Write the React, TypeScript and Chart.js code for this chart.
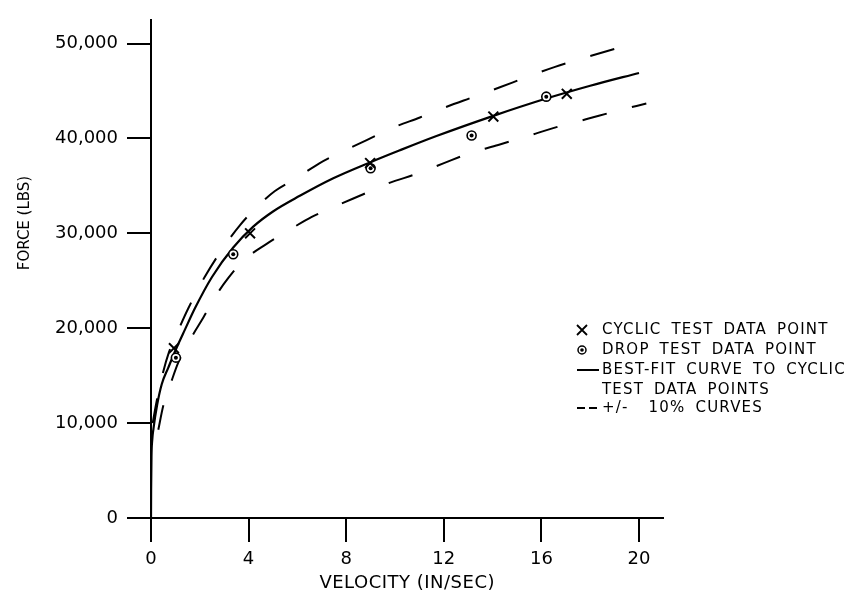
import React, { useEffect, useRef } from 'react';
import { Chart, registerables } from 'chart.js';

Chart.register(...registerables);

// ---- data ----
const fitVelocity = [0, 0.005, 0.02, 0.05, 0.1, 0.25, 0.44, 0.71, 1.0, 1.4, 1.8, 2.5, 3.37, 4.19, 5.0, 6.1, 7.47, 9.0, 10.2, 11.7, 14.0, 16.2, 18.0, 20.0];
const fitForce = [0, 3000, 6500, 8200, 9400, 11900, 14100, 15850, 17650, 19900, 22100, 25400, 28500, 30700, 32300, 33950, 35800, 37500, 38750, 40250, 42350, 44200, 45550, 46900];

const upperVelocity = [0.07, 0.2, 0.44, 0.74, 1.19, 1.53, 2.2, 3.1, 3.65, 4.33, 5.08, 5.97, 6.9, 7.88, 8.84, 9.93, 11.02, 12.12, 13.21, 14.3, 15.46, 16.56, 17.72, 20.0];
const upperForce = [10000, 11900, 14800, 17500, 20200, 22100, 25400, 29000, 30870, 32760, 34460, 35830, 37370, 38660, 39820, 41150, 42210, 43340, 44360, 45390, 46520, 47540, 48460, 50200];

const lowerVelocity = [0.3, 0.5, 0.85, 1.12, 1.67, 2.14, 2.69, 3.17, 3.78, 4.74, 5.67, 6.59, 7.61, 8.7, 9.73, 10.89, 11.98, 13.07, 14.23, 15.46, 16.62, 17.86, 19.09, 20.3];
const lowerForce = [9300, 11800, 14500, 16400, 19100, 21100, 23550, 25300, 27120, 28890, 30360, 31730, 32920, 34120, 35270, 36270, 37370, 38450, 39310, 40270, 41190, 42040, 42900, 43680];

const cyclicVelocity = [0.94, 4.06, 8.98, 14.03, 17.04];
const cyclicForce = [17900, 30000, 37400, 42300, 44700];

const dropVelocity = [1.02, 3.37, 9.0, 13.14, 16.2];
const dropForce = [16900, 27800, 36850, 40300, 44400];

const xTicks = [0, 4, 8, 12, 16, 20];
const xTickLabels = ['0', '4', '8', '12', '16', '20'];
const yTicks = [0, 10000, 20000, 30000, 40000, 50000];
const yTickLabels = ['0', '10,000', '20,000', '30,000', '40,000', '50,000'];

const xTitle = 'VELOCITY (IN/SEC)';
const yTitle = 'FORCE (LBS)';
const legendLines = [
  'CYCLIC TEST DATA POINT',
  'DROP TEST DATA POINT',
  'BEST-FIT CURVE TO CYCLIC',
  'TEST DATA POINTS',
  '+/-  10% CURVES',
];

const FONT = '"DejaVu Sans", sans-serif';

const pts = (xs: number[], ys: number[]) => xs.map((x, i) => ({ x, y: ys[i] }));

export default function App() {
  const ref = useRef<HTMLCanvasElement>(null);

  useEffect(() => {
    const canvas = ref.current;
    if (!canvas) return;

    const cadText = {
      id: 'cadText',
      afterDraw(chart: any) {
        const ctx = chart.ctx as CanvasRenderingContext2D;
        const area = chart.chartArea;
        ctx.save();
        ctx.fillStyle = '#000';
        ctx.strokeStyle = '#000';

        // x axis title
        ctx.font = `18px ${FONT}`;
        (ctx as any).letterSpacing = '0.5px';
        ctx.textAlign = 'center';
        ctx.textBaseline = 'middle';
        ctx.fillText(xTitle, (area.left + area.right) / 2, 583);

        // y axis title
        ctx.save();
        ctx.font = `15px ${FONT}`;
        (ctx as any).letterSpacing = '0px';
        ctx.translate(25, 223);
        ctx.rotate(-Math.PI / 2);
        ctx.fillText(yTitle, 0, 0);
        ctx.restore();

        // legend
        const lx = 602;
        const ys = [330, 350, 370, 390, 408];
        ctx.font = `15px ${FONT}`;
        (ctx as any).letterSpacing = '1.2px';
        (ctx as any).wordSpacing = '4px';
        ctx.textAlign = 'left';
        ctx.textBaseline = 'middle';
        legendLines.forEach((t, i) => ctx.fillText(t, lx, ys[i]));

        // legend symbols
        ctx.lineWidth = 1.8;
        const cx = 582, cy = ys[0], r = 5;
        ctx.beginPath();
        ctx.moveTo(cx - r, cy - r); ctx.lineTo(cx + r, cy + r);
        ctx.moveTo(cx + r, cy - r); ctx.lineTo(cx - r, cy + r);
        ctx.stroke();
        ctx.lineWidth = 1.5;
        ctx.beginPath();
        ctx.arc(582, ys[1], 4, 0, Math.PI * 2);
        ctx.stroke();
        ctx.beginPath();
        ctx.arc(582, ys[1], 1.8, 0, Math.PI * 2);
        ctx.fill();
        ctx.lineWidth = 2;
        ctx.beginPath();
        ctx.moveTo(577, ys[2]); ctx.lineTo(599, ys[2]);
        ctx.stroke();
        ctx.setLineDash([8, 4]);
        ctx.beginPath();
        ctx.moveTo(577, ys[4]); ctx.lineTo(598, ys[4]);
        ctx.stroke();
        ctx.setLineDash([]);
        ctx.restore();
      },
    };

    const chart = new Chart(canvas, {
      type: 'scatter',
      data: {
        datasets: [
          {
            label: 'Cyclic test data point',
            data: pts(cyclicVelocity, cyclicForce),
            pointStyle: 'crossRot',
            pointRadius: 7,
            pointBorderWidth: 2,
            borderColor: '#000',
            backgroundColor: '#000',
            showLine: false,
          },
          {
            label: 'Drop test data point (center)',
            data: pts(dropVelocity, dropForce),
            pointStyle: 'circle',
            pointRadius: 2,
            pointBorderWidth: 0,
            borderColor: '#000',
            backgroundColor: '#000',
            showLine: false,
          },
          {
            label: 'Drop test data point',
            data: pts(dropVelocity, dropForce),
            pointStyle: 'circle',
            pointRadius: 4.5,
            pointBorderWidth: 1.6,
            borderColor: '#000',
            backgroundColor: '#fff',
            showLine: false,
          },
          {
            label: 'Best-fit curve',
            data: pts(fitVelocity, fitForce),
            showLine: true,
            pointRadius: 0,
            borderColor: '#000',
            borderWidth: 2.2,
            cubicInterpolationMode: 'monotone',
            fill: false,
          },
          {
            label: '+10% curve',
            data: pts(upperVelocity, upperForce),
            showLine: true,
            pointRadius: 0,
            borderColor: '#000',
            borderWidth: 2,
            borderDash: [25, 26],
            cubicInterpolationMode: 'monotone',
            fill: false,
          },
          {
            label: '-10% curve',
            data: pts(lowerVelocity, lowerForce),
            showLine: true,
            pointRadius: 0,
            borderColor: '#000',
            borderWidth: 2,
            borderDash: [25, 26],
            cubicInterpolationMode: 'monotone',
            fill: false,
          },
        ],
      },
      options: {
        responsive: false,
        animation: false,
        events: [],
        layout: { padding: { top: 5, right: 198.6, left: 0, bottom: 0 } },
        plugins: {
          legend: { display: false },
          tooltip: { enabled: false },
          title: { display: false },
        },
        scales: {
          x: {
            type: 'linear',
            position: 'bottom',
            min: 0,
            max: 21,
            afterBuildTicks: (s: any) => {
              s.ticks = xTicks.map((v) => ({ value: v }));
            },
            afterFit: (s: any) => {
              s.height = 82;
            },
            ticks: {
              color: '#000',
              font: { family: FONT, size: 18 },
              padding: 7,
              maxRotation: 0,
              autoSkip: false,
              callback: (v: any) => {
                const i = xTicks.indexOf(Number(v));
                return i >= 0 ? xTickLabels[i] : '';
              },
            },
            grid: {
              drawOnChartArea: false,
              drawTicks: true,
              tickLength: 24,
              color: '#000',
              lineWidth: 2,
            },
            border: { display: true, color: '#000', width: 2 },
          },
          y: {
            type: 'linear',
            position: 'left',
            min: 0,
            max: 52500,
            afterBuildTicks: (s: any) => {
              s.ticks = yTicks.map((v) => ({ value: v }));
            },
            afterFit: (s: any) => {
              s.width = 151;
            },
            ticks: {
              color: '#000',
              font: { family: FONT, size: 18 },
              padding: 9,
              autoSkip: false,
              callback: (v: any) => {
                const i = yTicks.indexOf(Number(v));
                return i >= 0 ? yTickLabels[i] : '';
              },
            },
            grid: {
              drawOnChartArea: false,
              drawTicks: true,
              tickLength: 24,
              color: '#000',
              lineWidth: 2,
            },
            border: { display: true, color: '#000', width: 2 },
          },
        },
      },
      plugins: [cadText],
    } as any);

    return () => chart.destroy();
  }, []);

  return (
    <div style={{ position: 'fixed', left: 0, top: 0, width: 862, height: 600, background: '#fff' }}>
      <canvas ref={ref} width={862} height={600} style={{ display: 'block' }} />
    </div>
  );
}
